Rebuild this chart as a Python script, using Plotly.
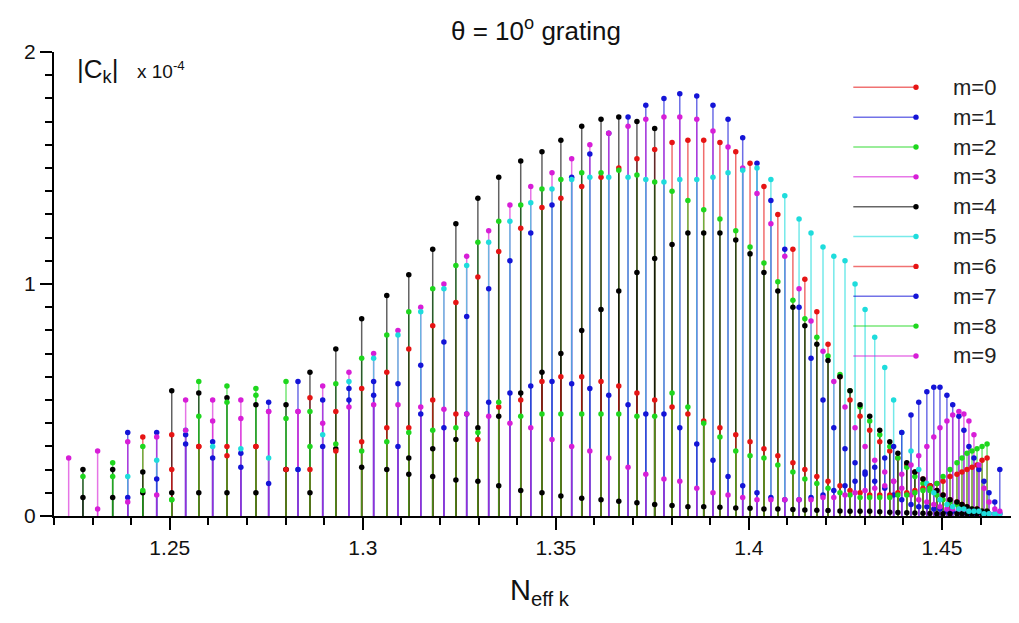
import plotly.graph_objects as go

# ---- data (N_eff positions of the two interleaved stem families) ----
slot_a = [1.2275, 1.2352, 1.2430, 1.2505, 1.2575, 1.2648, 1.2723, 1.2801, 1.2863, 1.2930,
          1.2997, 1.3062, 1.3119, 1.3181, 1.3241, 1.3298, 1.3352, 1.3409, 1.3464, 1.3513,
          1.3567, 1.3617, 1.3663, 1.3710, 1.3756, 1.3801, 1.3842, 1.3883, 1.3925, 1.3966,
          1.4003, 1.4039, 1.4075, 1.4114, 1.4145, 1.4176, 1.4205, 1.4236, 1.4262, 1.4288,
          1.4313, 1.4339, 1.4365, 1.4386, 1.4409, 1.4430, 1.4451, 1.4469, 1.4487, 1.4503,
          1.4521, 1.4539, 1.4552, 1.4565, 1.4578, 1.4591, 1.4604, 1.4617]
slot_b = [1.2238, 1.2313, 1.2391, 1.2466, 1.2541, 1.2611, 1.2684, 1.2756, 1.2832, 1.2896,
          1.2964, 1.3028, 1.3091, 1.3150, 1.3210, 1.3269, 1.3326, 1.3381, 1.3435, 1.3490,
          1.3541, 1.3588, 1.3637, 1.3687, 1.3733, 1.3780, 1.3821, 1.3865, 1.3907, 1.3946,
          1.3984, 1.4021, 1.4057, 1.4093, 1.4130, 1.4161, 1.4192, 1.4220, 1.4249, 1.4275,
          1.4301, 1.4326, 1.4352, 1.4375, 1.4396, 1.4420, 1.4440, 1.4461, 1.4479, 1.4495,
          1.4513, 1.4528, 1.4544, 1.4557, 1.4570, 1.4583, 1.4596, 1.4609, 1.4622, 1.4637,
          1.4650]

# |C_k| x 1e-4 for each azimuthal order m
m0 = [None, None, 0.34, 0.35, 0.30, 0.30, 0.30, 0.20, 0.51, 0.45,
      0.55, 0.62, 0.72, 0.82, 0.92, 1.03, 1.14, 1.24, 1.33, 1.37,
      1.42, 1.46, 1.50, 1.54, 1.58, 1.61, 1.62, 1.62, 1.61, 1.57,
      1.52, 1.42, 1.30, 1.15, 1.02, 0.88, 0.74, 0.60, 0.50, 0.43,
      0.37, 0.32, 0.28, 0.25, 0.22, 0.19, 0.16, 0.13, 0.11, 0.09,
      0.07, 0.06, 0.05, 0.04, 0.03, 0.03, 0.02, 0.02]
m1 = [None, None, 0.36, 0.36, 0.35, 0.32, 0.27, 0.49, 0.58, 0.50,
      0.50, 0.52, 0.57, 0.65, 0.75, 0.86, 0.98, 1.10, 1.22, 1.34,
      1.46, 1.56, 1.65, 1.72, 1.77, 1.80, 1.82, 1.81, 1.77, 1.71,
      1.63, 1.52, 1.36, 1.15, 0.90, 0.68, 0.50, 0.38, 0.29, 0.23,
      0.19, 0.15, 0.12, 0.09, 0.07, 0.05, 0.04, 0.04, 0.03, 0.03,
      0.02, 0.02, 0.02, 0.02, 0.01, 0.01, 0.01, 0.01, 0.01, 0.01,
      0.01]
m2 = [0.17, 0.23, 0.30, 0.07, 0.58, 0.56, 0.55, 0.58, 0.45, 0.57,
      0.68, 0.78, 0.88, 0.98, 1.08, 1.18, 1.27, 1.34, 1.41, 1.45,
      1.48, 1.48, 1.49, 1.47, 1.44, 1.40, 1.36, 1.32, 1.28, 1.23,
      1.16, 1.09, 1.01, 0.93, 0.85, 0.77, 0.69, 0.61, 0.54, 0.47,
      0.41, 0.35, 0.30, 0.25, 0.21, 0.17, 0.14, 0.11, 0.09, 0.07,
      0.06, 0.05, 0.04, 0.03, 0.03, 0.02, 0.02, 0.02]
m3 = [0.25, 0.28, 0.32, 0.34, 0.50, 0.50, 0.50, 0.45, 0.45, 0.56,
      0.62, 0.70, 0.80, 0.90, 1.00, 1.12, 1.23, 1.34, 1.42, 1.48,
      1.54, 1.60, 1.65, 1.68, 1.71, 1.72, 1.72, 1.71, 1.66, 1.59,
      1.50, 1.39, 1.26, 1.12, 0.98, 0.84, 0.71, 0.58, 0.47, 0.38,
      0.30, 0.24, 0.19, 0.15, 0.12, 0.09, 0.07, 0.06, 0.05, 0.04,
      0.03, 0.03, 0.02, 0.02, 0.02, 0.02, 0.01, 0.01, 0.01, 0.01,
      0.01]
m4 = [0.20, 0.20, 0.19, 0.54, 0.53, 0.51, 0.48, 0.48, 0.62, 0.72,
      0.85, 0.95, 1.04, 1.15, 1.26, 1.37, 1.46, 1.53, 1.57, 1.62,
      1.68, 1.71, 1.72, 1.70, 1.67, 1.17, 1.22, 1.22, 1.22, 1.19,
      1.13, 1.05, 0.97, 0.90, 0.82, 0.74, 0.67, 0.60, 0.54, 0.48,
      0.43, 0.37, 0.32, 0.27, 0.23, 0.19, 0.16, 0.13, 0.11, 0.09,
      0.07, 0.06, 0.05, 0.04, 0.03, 0.03, 0.02, 0.02]
m4_mid = [None, None, None, None, None, None, None, None, None, None,
          None, None, 0.25, 0.29, 0.33, 0.38, 0.43, 0.53, 0.62, 0.70,
          0.80, 0.89, 0.97, 1.05, 1.11, None, None, None, None, None,
          None, None, None, None, None, None, None, None, None, None,
          None, None, None, None, None, None, None, None, None, None,
          None, None, None, None, None, None, None, None]
m4_low = [0.08, 0.08, 0.10, 0.10, 0.10, 0.10, 0.10, 0.20, 0.10, 0.29,
          0.21, 0.20, 0.18, 0.17, 0.155, 0.15, 0.13, 0.11, 0.10, 0.086,
          0.076, 0.07, 0.064, 0.057, 0.05, 0.045, 0.04, 0.04, 0.038, 0.035,
          0.033, 0.03, 0.03, 0.028, 0.026, 0.025, 0.024, 0.022, 0.02, 0.02,
          0.02, 0.018, 0.016, 0.015, 0.014, 0.013, 0.012, 0.011, 0.01, 0.01,
          0.01, 0.01, 0.01, 0.01, 0.01, 0.01, 0.01, 0.01]
m5 = [None, None, 0.17, 0.24, 0.37, 0.30, 0.29, 0.25, 0.20, 0.35,
      0.58, 0.68, 0.78, 0.88, 0.98, 1.08, 1.18, 1.27, 1.35, 1.41,
      1.45, 1.46, 1.46, 1.46, 1.45, 1.44, 1.45, 1.45, 1.46, 1.48,
      1.49, 1.50, 1.45, 1.38, 1.28, 1.22, 1.16, 1.12, 1.10, 1.00,
      0.89, 0.77, 0.64, 0.50, 0.36, 0.28, 0.20, 0.14, 0.10, 0.07,
      0.05, 0.04, 0.03, 0.03, 0.02, 0.02, 0.02, 0.01, 0.01, 0.01,
      0.01]
m6 = [None, None, None, 0.20, 0.30, 0.26, 0.30, 0.20, 0.20, 0.28,
      0.32, 0.38, 0.38, 0.50, 0.44, 0.33, 0.47, 0.50, 0.58, 0.60,
      0.60, 0.58, 0.56, 0.53, 0.50, 0.47, 0.44, 0.41, 0.38, 0.35,
      0.32, 0.29, 0.26, 0.23, 0.20, 0.17, 0.15, 0.13, 0.11, 0.10,
      0.09, 0.09, 0.09, 0.10, 0.10, 0.11, 0.12, 0.13, 0.14, 0.15,
      0.17, 0.18, 0.19, 0.20, 0.21, 0.22, 0.24, 0.25]
m7 = [None, None, 0.08, 0.16, 0.31, 0.25, 0.21, 0.14, 0.20, 0.30,
      0.55, 0.58, 0.30, 0.44, 0.38, 0.44, 0.49, 0.53, 0.56, 0.58,
      0.57, 0.55, 0.52, 0.48, 0.44, 0.44, 0.38, 0.31, 0.24, 0.17,
      0.13, 0.10, 0.08, 0.07, 0.07, 0.08, 0.09, 0.11, 0.13, 0.15,
      0.18, 0.21, 0.25, 0.30, 0.36, 0.435, 0.49, 0.536, 0.555, 0.555,
      0.52, 0.48, 0.43, 0.37, 0.30, 0.25, 0.20, 0.15, 0.10, 0.06,
      0.20]
m8 = [None, 0.17, 0.11, 0.07, 0.43, 0.49, 0.52, 0.42, 0.30, 0.31,
      0.28, 0.32, 0.36, 0.37, 0.38, 0.36, 0.49, 0.43, 0.44, 0.44,
      0.44, 0.44, 0.44, 0.43, 0.43, 0.53, 0.47, 0.40, 0.34, 0.28,
      0.26, 0.25, 0.22, 0.19, 0.16, 0.14, 0.12, 0.10, 0.09, 0.08,
      0.08, 0.08, 0.08, 0.09, 0.09, 0.10, 0.11, 0.12, 0.14, 0.17,
      0.20, 0.23, 0.25, 0.27, 0.28, 0.29, 0.30, 0.31]
m9 = [None, 0.03, 0.06, 0.09, 0.37, 0.41, 0.42, 0.45, 0.45, 0.40,
      0.47, 0.48, 0.48, 0.47, 0.46, 0.44, 0.43, 0.40, 0.38, 0.33,
      0.30, 0.28, 0.25, 0.21, 0.18, 0.16, 0.15, 0.12, 0.10, 0.09,
      0.08, 0.07, 0.07, 0.07, 0.07, 0.07, 0.08, 0.08, 0.09, 0.10,
      0.11, 0.12, 0.13, 0.15, 0.18, 0.22, 0.26, 0.30, 0.34, 0.38,
      0.41, 0.435, 0.45, 0.44, 0.41, 0.35, 0.22, 0.12, 0.06, 0.03,
      0.02]

names = ["m=0", "m=1", "m=2", "m=3", "m=4", "m=5", "m=6", "m=7", "m=8", "m=9"]
RED, BLUE, GREEN, MAG, BLK, CYAN = (230, 20, 20), (20, 20, 215), (30, 215, 30), (215, 30, 215), (0, 0, 0), (30, 220, 220)
colors = [RED, BLUE, GREEN, MAG, BLK, CYAN, RED, BLUE, GREEN, MAG]
series = [
    (slot_a, m0), (slot_b, m1), (slot_a, m2), (slot_b, m3),
    (slot_a + slot_a + slot_a, m4 + m4_mid + m4_low),
    (slot_b, m5), (slot_a, m6), (slot_b, m7), (slot_a, m8), (slot_b, m9),
]

fig = go.Figure()
marker_traces = []
for name, col, (xs, vs) in zip(names, colors, series):
    sx, sy, px, py = [], [], [], []
    for x, v in zip(xs, vs):
        if v is None:
            continue
        sx += [x, x, None]
        sy += [0, v, None]
        px.append(x)
        py.append(v)
    fig.add_trace(go.Scatter(x=sx, y=sy, mode="lines", name=name, showlegend=False,
                             line=dict(color="rgba(%d,%d,%d,0.62)" % col, width=1.5),
                             hoverinfo="skip"))
    marker_traces.append(go.Scatter(x=px, y=py, mode="markers", name=name, showlegend=False,
                                    marker=dict(color="rgb(%d,%d,%d)" % col, size=5.5)))
for t in marker_traces:
    fig.add_trace(t)

# ---- manual legend (line with dot at its right end, label to the right) ----
PW, PH = 957.0, 464.0   # plot-area size in pixels (for placing the legend in paper units)
shapes = []
annotations = []
for i, (name, col) in enumerate(zip(names, colors)):
    yp = (464 - (35.3 + i * 29.85)) / PH
    shapes.append(dict(type="line", xref="paper", yref="paper", x0=799.3 / PW, x1=862.0 / PW, y0=yp, y1=yp,
                       line=dict(color="rgba(%d,%d,%d,0.6)" % col, width=1.5)))
    shapes.append(dict(type="circle", xref="paper", yref="paper", xsizemode="pixel", ysizemode="pixel",
                       xanchor=862.0 / PW, yanchor=yp, x0=-2.7, x1=2.7, y0=-2.7, y1=2.7,
                       fillcolor="rgb(%d,%d,%d)" % col, line=dict(width=0)))
    annotations.append(dict(text=name, xref="paper", yref="paper", x=897.0 / PW, y=yp, xanchor="left",
                            yanchor="middle", showarrow=False, font=dict(size=22, color="#222")))

annotations += [
    dict(text="|C<sub>k</sub>|", xref="paper", yref="paper", x=21.0 / PW, y=0.960, xanchor="left",
         yanchor="middle", showarrow=False, font=dict(size=26, color="#111")),
    dict(text="x 10<sup>-4</sup>", xref="paper", yref="paper", x=81.0 / PW, y=0.962, xanchor="left",
         yanchor="middle", showarrow=False, font=dict(size=19, color="#111")),
    dict(text="N<sub>eff k</sub>", xref="paper", yref="paper", x=486.0 / PW, y=-0.164, xanchor="center",
         yanchor="middle", showarrow=False, font=dict(size=29, color="#111")),
]

fig.update_layout(
    width=1003, height=607,
    margin=dict(l=46, r=0, t=44, b=99),
    paper_bgcolor="white", plot_bgcolor="white",
    font=dict(family="Liberation Sans, Arial, sans-serif", color="#111"),
    title=dict(text="θ = 10<sup>o</sup> grating", x=0.5264, xanchor="center", y=0.963, yanchor="middle",
               font=dict(size=26, color="#111")),
    shapes=shapes, annotations=annotations,
    xaxis=dict(range=[1.22, 1.4679], showgrid=False, zeroline=False, showline=True, linecolor="black",
               linewidth=2, ticks="outside", ticklen=12, tickwidth=2, tickcolor="black",
               tick0=1.25, dtick=0.05, tickfont=dict(size=21),
               minor=dict(dtick=0.01, ticks="outside", ticklen=7, tickwidth=2, tickcolor="black")),
    yaxis=dict(range=[0, 2], showgrid=False, zeroline=False, showline=True, linecolor="black",
               linewidth=2, ticks="outside", ticklen=12, tickwidth=2, tickcolor="black",
               dtick=1, tickfont=dict(size=21),
               minor=dict(dtick=0.1, ticks="outside", ticklen=7, tickwidth=2, tickcolor="black")),
)

fig.write_html("out.html")
